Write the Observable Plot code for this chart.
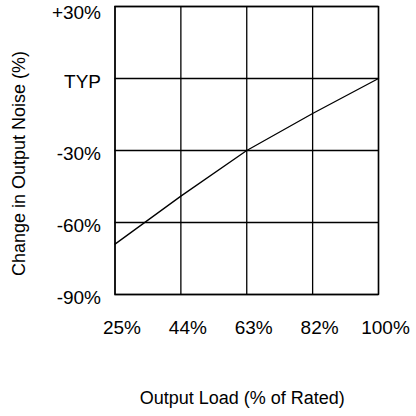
<!DOCTYPE html>
<html>
<head>
<meta charset="utf-8">
<script src="https://cdn.jsdelivr.net/npm/d3@7"></script>
<script src="https://cdn.jsdelivr.net/npm/@observablehq/plot@0.6"></script>
<style>
  html, body { margin: 0; padding: 0; background: #fff; }
  svg { display: block; }
</style>
</head>
<body>
<div id="chart"></div>
<script>
const loadTicks = [25, 44, 63, 82, 100];
const noiseTicks = [-90, -60, -30, 0, 30];
const loadValues = [25, 44, 63, 82, 100];
const noiseValues = [-69, -49, -30, -14.6, 0];
const xTitle = "Output Load (% of Rated)";
const yTitle = "Change in Output Noise (%)";

const data = loadValues.map((x, i) => ({x, y: noiseValues[i]}));
const yFmt = d => d === 0 ? "TYP" : (d > 0 ? "+" + d + "%" : d + "%");
const font = "'Liberation Sans', Arial, Helvetica, sans-serif";

const chart = Plot.plot({
  width: 416,
  height: 416,
  marginLeft: 114.5,
  marginRight: 38,
  marginTop: 6,
  marginBottom: 122,
  style: {fontFamily: font, background: "#fff", color: "#000"},
  x: {domain: loadTicks, type: "linear"},
  y: {domain: [-90, 30]},
  marks: [
    Plot.gridX(loadTicks, {stroke: "#000", strokeOpacity: 1, strokeWidth: 1.3}),
    Plot.gridY(noiseTicks, {stroke: "#000", strokeOpacity: 1, strokeWidth: 1.3}),
    Plot.frame({stroke: "#000", strokeWidth: 1.4}),
    Plot.line(data, {x: "x", y: "y", stroke: "#000", strokeWidth: 1.3}),
    Plot.axisX(loadTicks, {tickSize: 0, tickPadding: 26, fontSize: 19, dx: 7, tickFormat: d => d + "%", label: null}),
    Plot.axisY(noiseTicks.filter(d => d < 30), {tickSize: 0, tickPadding: 14, fontSize: 19, dy: 3, tickFormat: yFmt, label: null}),
    Plot.axisY([30], {tickSize: 0, tickPadding: 14, fontSize: 19, dy: 6, tickFormat: yFmt, label: null}),
    Plot.text([xTitle], {frameAnchor: "bottom", textAnchor: "middle", dy: 109, dx: -4.5, fontSize: 18, text: d => d, fill: "#000"}),
    Plot.text([yTitle], {frameAnchor: "left", textAnchor: "middle", rotate: -90, dx: -96, dy: 13, fontSize: 18, text: d => d, fill: "#000"})
  ]
});
document.getElementById("chart").appendChild(chart);
</script>
</body>
</html>
